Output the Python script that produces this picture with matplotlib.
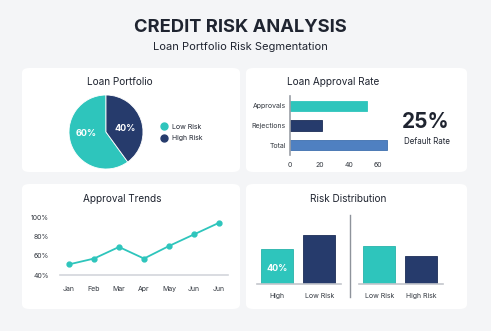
import numpy as np
import matplotlib
matplotlib.use('Agg')
import matplotlib.pyplot as plt
from matplotlib.patches import FancyBboxPatch
from matplotlib.lines import Line2D

plt.rcParams['font.family'] = ['Inter', 'DejaVu Sans']

# data
pie_labels = ['Low Risk', 'High Risk']
pie_values = [60, 40]

approval_cats = ['Approvals', 'Rejections', 'Total']
approval_vals = [52, 22, 66]

months = ['Jan', 'Feb', 'Mar', 'Apr', 'May', 'Jun', 'Jun']
trend_vals = [51, 57, 69, 57, 70, 82, 94]

dist_left_cats = ['High', 'Low Risk']
dist_left_vals = [40, 56]
dist_right_cats = ['Low Risk', 'High Risk']
dist_right_vals = [43, 32]

TEAL = '#2ec5bc'
NAVY = '#263b6c'
STEEL = '#4f80c1'
DARK = '#1f2430'
BG = '#f4f5f7'

W, H = 491, 331
fig = plt.figure(figsize=(W / 100, H / 100), dpi=100)
fig.patch.set_facecolor(BG)


def box(l, t, r, b):
    # pixel box -> figure fraction rect
    return [l / W, 1 - b / H, (r - l) / W, (b - t) / H]


def fx(x):
    return x / W


def fy(y):
    return 1 - y / H


def card(l, t, r, b):
    p = FancyBboxPatch((fx(l), fy(b)), (r - l) / W, (b - t) / H,
                       boxstyle='round,pad=0,rounding_size=0.015',
                       transform=fig.transFigure, facecolor='white',
                       edgecolor='none', zorder=-5)
    fig.patches.append(p)


card(22, 68, 240, 172)
card(246, 68, 467, 172)
card(22, 184, 240, 309)
card(246, 184, 467, 309)

fig.text(0.49, fy(28), 'CREDIT RISK ANALYSIS', ha='center', va='center',
         fontsize=13.2, fontweight='bold', color=DARK)
fig.text(0.49, fy(47), 'Loan Portfolio Risk Segmentation', ha='center',
         va='center', fontsize=8, color=DARK)

title_kw = dict(ha='center', va='center', fontsize=7.2, color=DARK)
fig.text(fx(120), fy(82), 'Loan Portfolio', **title_kw)
fig.text(fx(333), fy(82), 'Loan Approval Rate', **title_kw)
fig.text(fx(122), fy(199), 'Approval Trends', **title_kw)
fig.text(fx(348), fy(199), 'Risk Distribution', **title_kw)

# pie
ax = fig.add_axes(box(69, 95, 143, 169))
wedges, texts = ax.pie(pie_values, colors=[TEAL, NAVY], startangle=90,
                       counterclock=True, radius=1,
                       wedgeprops=dict(edgecolor='white', linewidth=0.6))
for w, v in zip(wedges, pie_values):
    ang = np.deg2rad((w.theta1 + w.theta2) / 2)
    ax.text(0.55 * np.cos(ang), 0.22 * np.sin(ang) + 0.03, f'{v}%',
            ha='center', va='center', color='white', fontsize=6.5,
            fontweight='bold')
ax.set_xlim(-1, 1)
ax.set_ylim(-1, 1)
ax.set_aspect('equal')

handles = [Line2D([], [], marker='o', linestyle='none', markersize=5,
                  markerfacecolor=c, markeredgecolor=c) for c in [TEAL, NAVY]]
fig.legend(handles, pie_labels, loc='center left',
           bbox_to_anchor=(fx(154), fy(132.5)), frameon=False, fontsize=5,
           handletextpad=0.2, labelspacing=0.75, borderaxespad=0,
           labelcolor=DARK)

# approval bars
ax = fig.add_axes(box(290, 96, 393, 155))
ypos = np.arange(len(approval_cats))
ax.barh(ypos, approval_vals, height=0.52, color=[TEAL, NAVY, STEEL],
        edgecolor=[TEAL, '#1c2d57', '#3f6faf'], linewidth=0.6)
ax.set_yticks(ypos)
ax.set_yticklabels(approval_cats)
ax.set_ylim(2.5, -0.5)
ax.set_xlim(0, 70)
ax.set_xticks([0, 20, 40, 60])
ax.tick_params(length=0, labelsize=5, colors='#333840')
ax.tick_params(axis='x', pad=5)
ax.tick_params(axis='y', pad=3)
for s in ['top', 'right', 'bottom']:
    ax.spines[s].set_visible(False)
ax.spines['left'].set_color('#9a9ea6')
ax.spines['left'].set_linewidth(1.2)
ax.set_facecolor('none')

fig.text(fx(426), fy(122), '25%', ha='center', va='center', fontsize=15,
         fontweight='bold', color=DARK)
fig.text(fx(427), fy(142), 'Default Rate', ha='center', va='center',
         fontsize=5.7, color=DARK)

# trend line
ax = fig.add_axes(box(60, 217, 228, 275))
xs = np.arange(len(months))
ax.plot(xs, trend_vals, color=TEAL, linewidth=1.3, marker='o', markersize=3.5,
        clip_on=False)
ax.set_xlim(-0.36, 6.36)
ax.set_ylim(40, 100)
ax.set_xticks(xs)
ax.set_xticklabels(months)
ax.set_yticks([40, 60, 80, 100])
ax.set_yticklabels(['40%', '60%', '80%', '100%'])
ax.tick_params(length=0, labelsize=5, colors='#333840')
ax.tick_params(axis='x', pad=8)
ax.tick_params(axis='y', pad=8)
for s in ['top', 'right', 'left']:
    ax.spines[s].set_visible(False)
ax.spines['bottom'].set_color('#d3d6db')
ax.spines['bottom'].set_linewidth(1.2)
ax.set_facecolor('none')

# risk distribution
for (l, r), cats, vals in [((257, 341), dist_left_cats, dist_left_vals),
                           ((359, 443), dist_right_cats, dist_right_vals)]:
    ax = fig.add_axes(box(l, 215, r, 284))
    xp = np.arange(len(cats))
    ax.bar(xp, vals, width=0.76, color=[TEAL, NAVY],
           edgecolor=['#28b3aa', '#1c2d57'], linewidth=0.6)
    ax.set_xlim(-0.48, 1.52)
    ax.set_ylim(0, 79)
    ax.set_xticks(xp)
    ax.set_xticklabels(cats)
    ax.set_yticks([])
    ax.tick_params(length=0, labelsize=5, colors='#333840', pad=6.5)
    for s in ['top', 'right', 'left']:
        ax.spines[s].set_visible(False)
    ax.spines['bottom'].set_color('#c3c6cc')
    ax.spines['bottom'].set_linewidth(1.2)
    ax.set_facecolor('none')
    if cats[0] == 'High':
        ax.text(xp[0], vals[0] * 0.43, f'{vals[0]}%', ha='center',
                va='center', color='white', fontsize=6.5, fontweight='bold')

fig.add_artist(Line2D([fx(350), fx(350)], [fy(215), fy(297)],
                      transform=fig.transFigure, color='#8e939b',
                      linewidth=1.0))

fig.savefig('out.png', dpi=100, facecolor=BG)
